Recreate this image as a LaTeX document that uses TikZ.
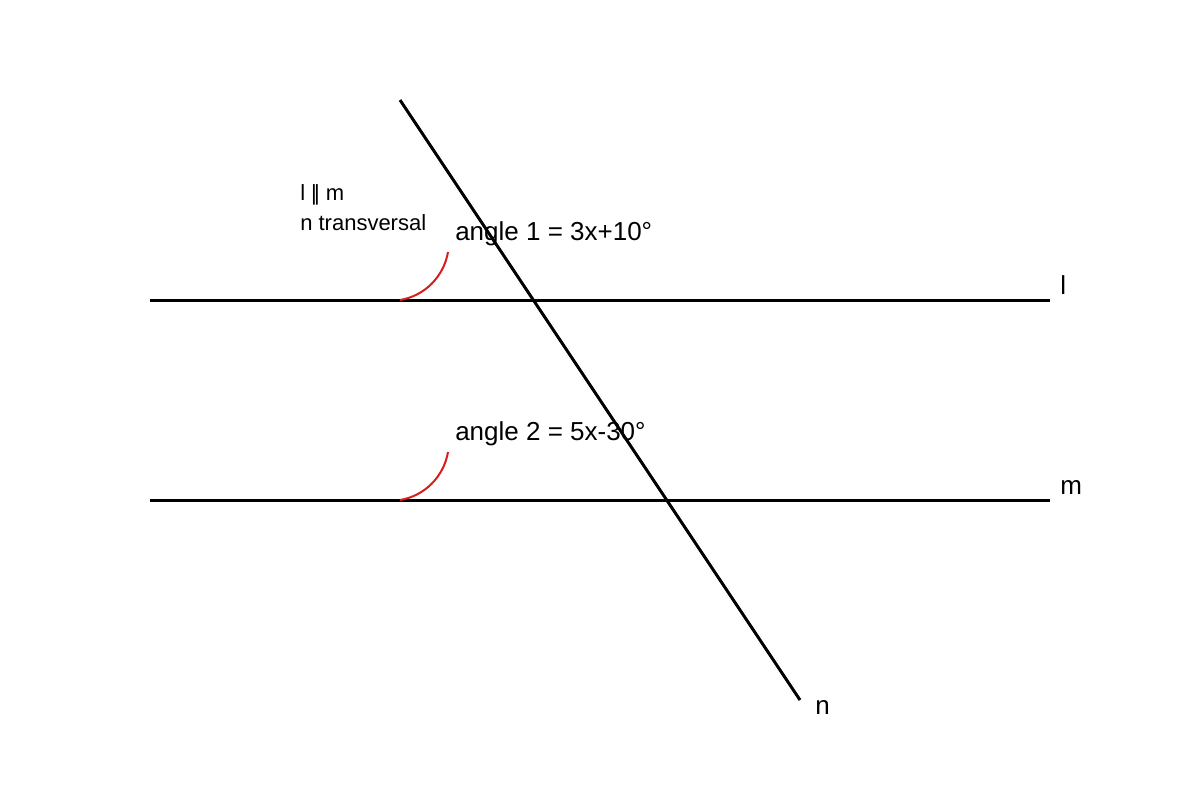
\documentclass[tikz,border=0pt]{standalone}
\usepackage{fontspec}
\setmainfont{Liberation Sans}
\usepackage{xcolor}
\definecolor{arcred}{RGB}{215,30,30}

\begin{document}
\begin{tikzpicture}[x=0.75pt, y=-0.75pt,
    every node/.style={inner sep=0pt, font=\fontsize{19.5}{22}\selectfont},
    small/.style={font=\fontsize{16.5}{19}\selectfont}]
  \useasboundingbox (0, 0) rectangle (1200, 800);

  % Line ends
  \coordinate (l1) at (150, 300);
  \coordinate (l2) at (1050, 300);
  \coordinate (m1) at (150, 500);
  \coordinate (m2) at (1050, 500);
  \coordinate (n1) at (400, 100);
  \coordinate (n2) at (800, 700);

  % Parallel lines and transversal
  \draw[line width=2.25pt] (l1) -- (l2);
  \draw[line width=2.25pt] (m1) -- (m2);
  \draw[line width=2.25pt] (n1) -- (n2);

  % Angle arcs
  \draw[line width=1.5pt, draw=arcred]
     (400, 300) .. controls (425, 296) and (444, 276) .. (448, 252);
  \draw[line width=1.5pt, draw=arcred]
     (400, 500) .. controls (425, 496) and (444, 476) .. (448, 452);

  % Line labels
  \node[anchor=base west] (lname) at (1060, 294) {l};
  \node[anchor=base west] (mname) at (1060, 494) {m};
  \node[anchor=base west] (nname) at (815, 714) {n};

  % Notes
  \node[small, anchor=base west] (par) at (300, 200) {l |\kern-2.2pt| m};
  \node[small, anchor=base west] (trans) at (300, 230) {n transversal};

  % Angle labels
  \node[anchor=base west] (ang1) at (455, 240) {angle 1 = 3x+10°};
  \node[anchor=base west] (ang2) at (455, 440) {angle 2 = 5x-30°};
\end{tikzpicture}
\end{document}
